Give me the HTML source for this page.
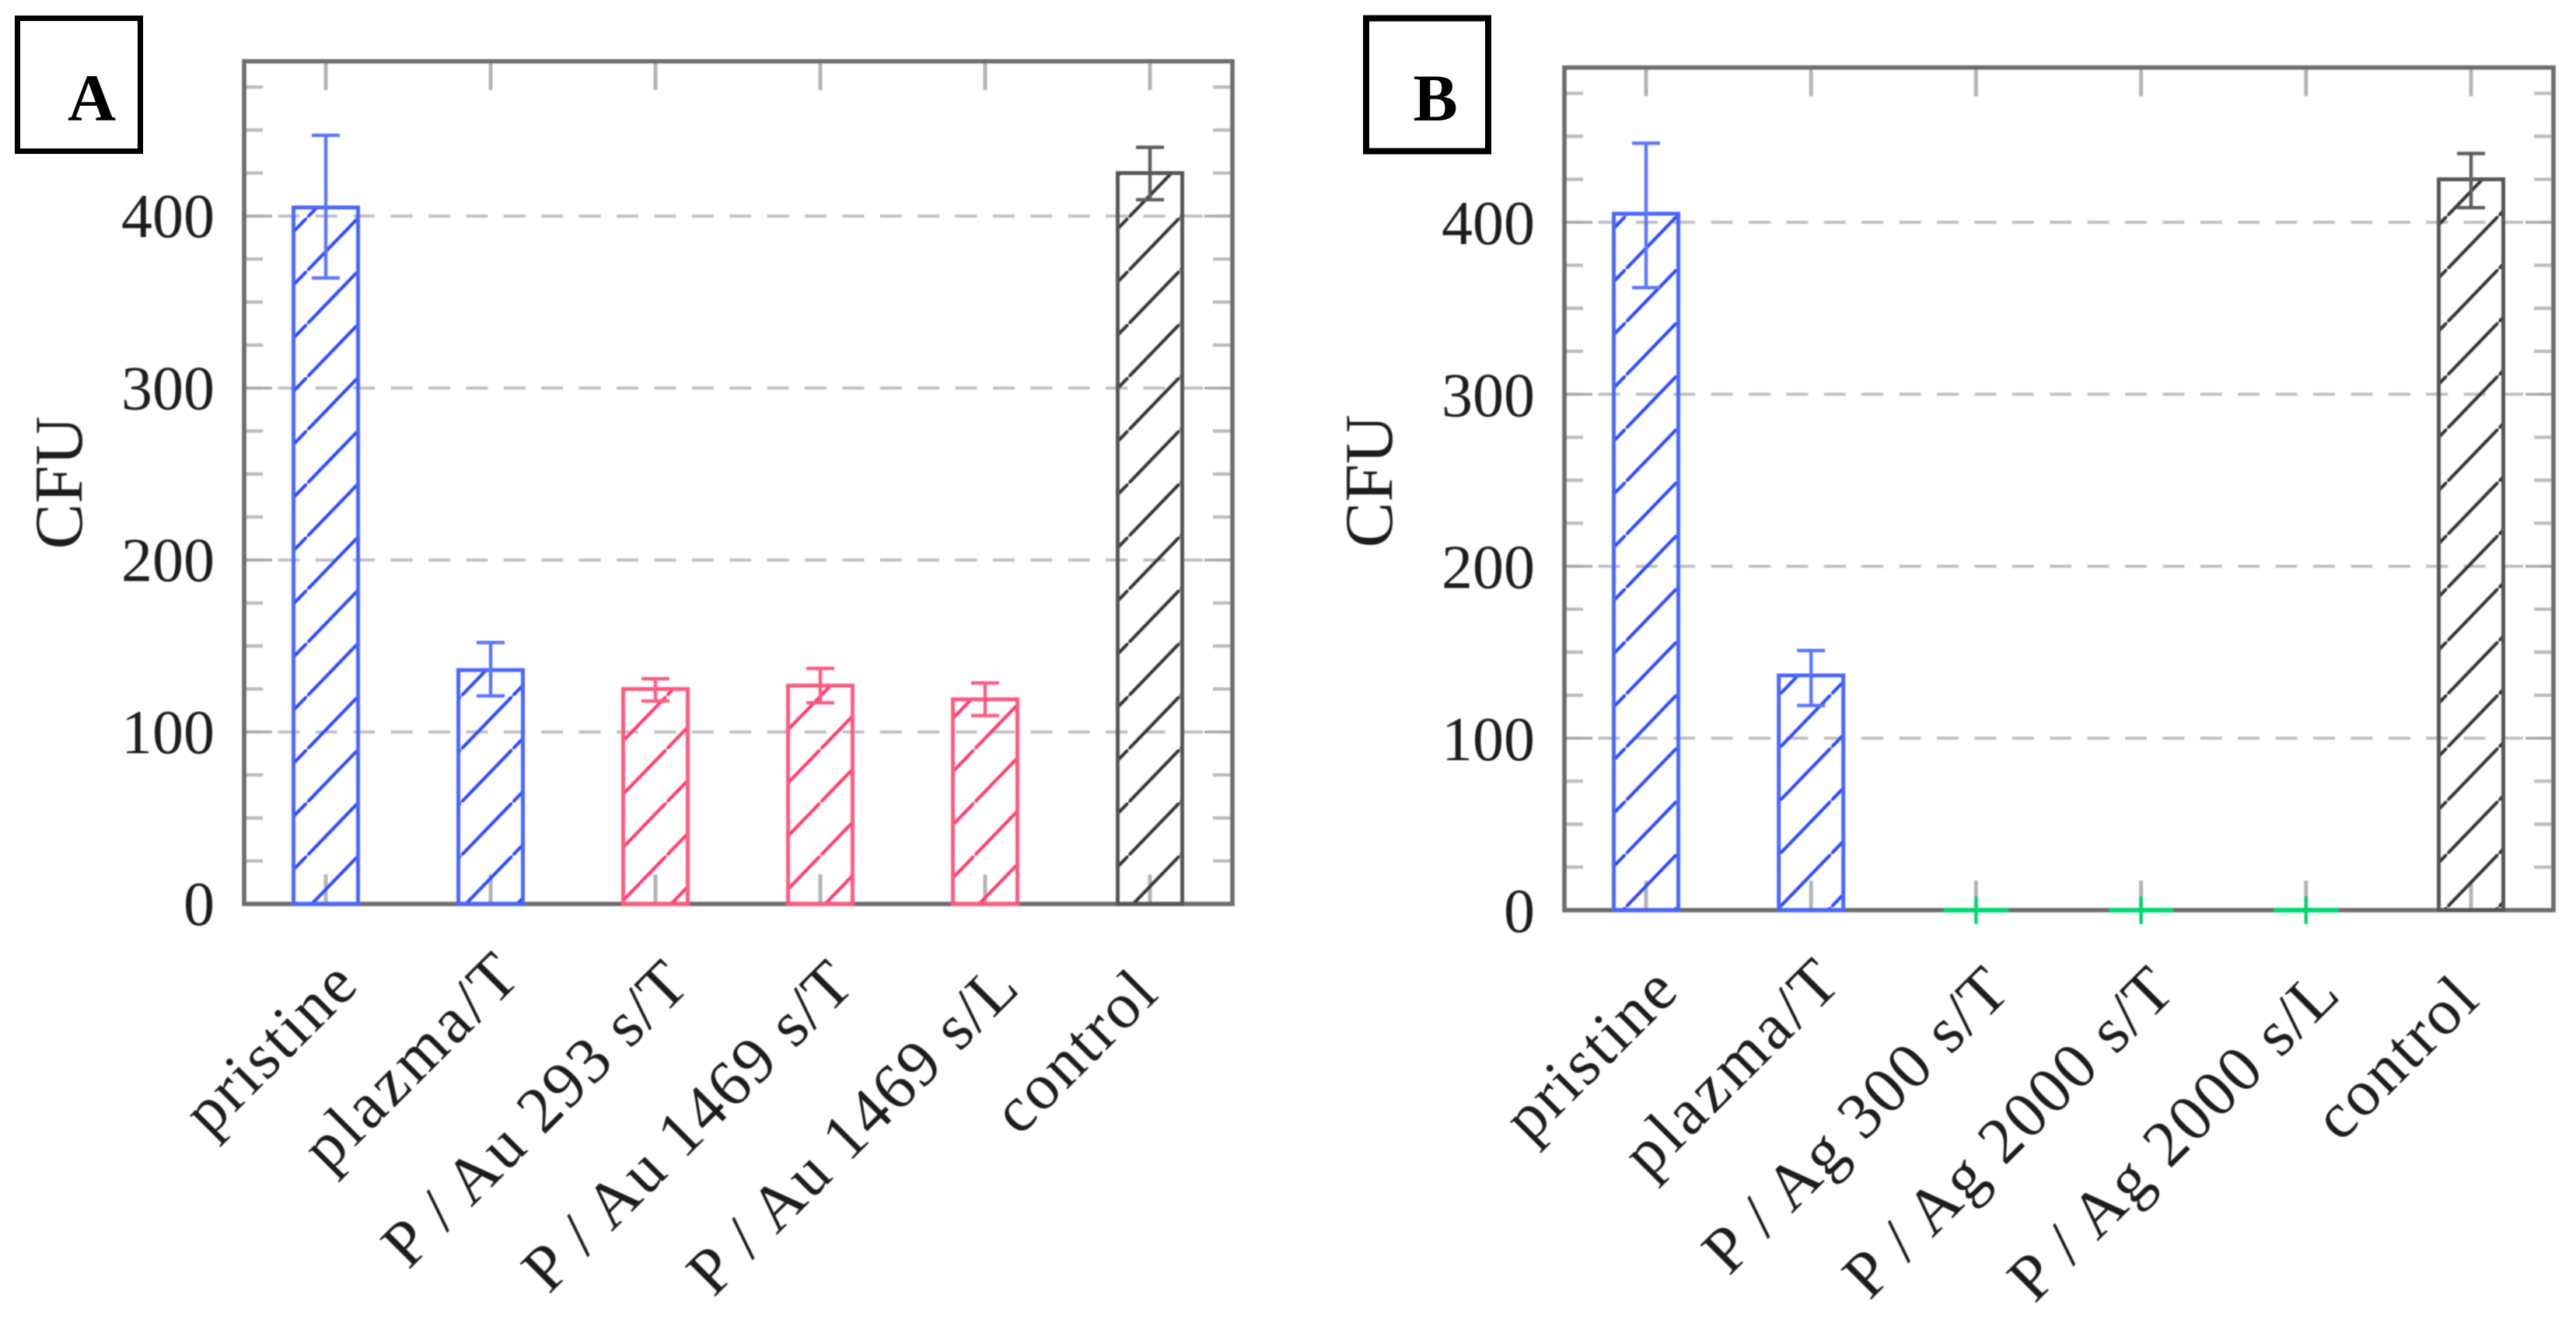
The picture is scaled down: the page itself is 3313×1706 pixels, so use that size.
<!DOCTYPE html>
<html lang="en">
<head>
<meta charset="utf-8">
<title>CFU bar charts A and B</title>
<style>
html,body{margin:0;padding:0;background:#fff;width:3313px;height:1706px;overflow:hidden}
svg{display:block}
text{font-family:"Liberation Serif",serif;fill:#1c1c1c}
#plot-root{filter:blur(0.7px)}
</style>
</head>
<body>
<svg id="chart" xmlns="http://www.w3.org/2000/svg" width="3313" height="1706" viewBox="0 0 3313 1706">
  <defs id="defs"></defs>
  <rect width="3313" height="1706" fill="#fff"/>
  <g id="plot-root"></g>
  <g>
    <rect x="22.5" y="23.5" width="158" height="171" fill="#fff" stroke="#000" stroke-width="7"/>
    <text x="118" y="155" font-size="86" font-weight="bold" text-anchor="middle" style="fill:#000">A</text>
  </g>
  <g>
    <rect x="1757" y="23.5" width="157" height="171" fill="#fff" stroke="#000" stroke-width="8"/>
    <text x="1846" y="155" font-size="86" font-weight="bold" text-anchor="middle" style="fill:#000">B</text>
  </g>
</svg>
<script>
// ---- Chart data ----
const categoriesA = ['pristine', 'plazma/T', 'P / Au 293 s/T', 'P / Au 1469 s/T', 'P / Au 1469 s/L', 'control'];
const valuesA = [405, 136, 125, 127, 119, 425];
const errorLowA = [364, 121, 118, 117, 109.5, 409.5];
const errorHighA = [447, 152, 131, 137, 128.5, 440];
const seriesA = ['blue', 'blue', 'red', 'red', 'red', 'black'];

const categoriesB = ['pristine', 'plazma/T', 'P / Ag 300 s/T', 'P / Ag 2000 s/T', 'P / Ag 2000 s/L', 'control'];
const valuesB = [405, 136.5, 0, 0, 0, 425];
const errorLowB = [362, 119, -8, -8, -8, 408.5];
const errorHighB = [446, 151, 8, 8, 8, 440];
const seriesB = ['blue', 'blue', 'green', 'green', 'green', 'black'];

const majorTicks = [0, 100, 200, 300, 400];
const minorTicks = [25, 50, 75, 125, 150, 175, 225, 250, 275, 325, 350, 375, 425, 450, 475];
const axisTitle = 'CFU';

// ---- Styling and layout ----
const PX_PER_UNIT = 2.2125;
const Y_MAX = 490;
const BAR_WIDTH = 83;
const CAP_WIDTH = 36;
const HATCH_PERIOD = 68.4;
const HATCH_SLOPE = 1.036;
const colors = {
  blue: {border: '#4a66ff', hatch: '#2a48ff', error: '#5a74ff'},
  red: {border: '#ff5a80', hatch: '#ff3a68', error: '#ff5a80'},
  black: {border: '#555555', hatch: '#333333', error: '#5c5c5c'},
  green: {border: '#00d870', hatch: '#00d870', error: '#00d46c'}
};
const labelNudge = [
  {dx: 10, dy: 10, ls: 3},
  {dx: 8, dy: -2, ls: 5},
  {dx: 12, dy: 10, ls: 2.5},
  {dx: 12, dy: 10, ls: 2.5},
  {dx: 12, dy: 14, ls: 2.5},
  {dx: -21, dy: 21, ls: 3}
];
const panels = [
  {key: 'a', left: 314, right: 1585, bottom: 1163, first: 419, step: 212, cats: categoriesA, vals: valuesA, lo: errorLowA, hi: errorHighA, series: seriesA,
   hatchX: 461, hatchY: 280, tickEnd: 276, tickDy: 27, titleX: 105, titleY: 621, labelDx: 36, labelDy: 96},
  {key: 'b', left: 2012, right: 3284, bottom: 1171, first: 2117, step: 212.2, cats: categoriesB, vals: valuesB, lo: errorLowB, hi: errorHighB, series: seriesB,
   hatchX: 2157, hatchY: 825, tickEnd: 1974, tickDy: 28, titleX: 1790, titleY: 619, labelDx: 36, labelDy: 96}
];

const NS = 'http://www.w3.org/2000/svg';
const root = document.getElementById('plot-root');
const defs = document.getElementById('defs');

function el(tag, parent, attrs) {
  const node = document.createElementNS(NS, tag);
  for (const k in attrs) node.setAttribute(k, attrs[k]);
  parent.appendChild(node);
  return node;
}
function hline(parent, x1, x2, y, color, width, dash) {
  const l = el('line', parent, {x1: x1, x2: x2, y1: y, y2: y, stroke: color, 'stroke-width': width});
  if (dash) {
    l.setAttribute('stroke-dasharray', dash);
    l.setAttribute('stroke-dashoffset', 5);
  }
  return l;
}
function vline(parent, x, y1, y2, color, width) {
  return el('line', parent, {x1: x, x2: x, y1: y1, y2: y2, stroke: color, 'stroke-width': width});
}

function makeHatch(p, seriesKey) {
  const w = HATCH_PERIOD / HATCH_SLOPE;
  const h = HATCH_PERIOD;
  const id = 'hatch-' + p.key + '-' + seriesKey;
  const pat = el('pattern', defs, {id: id, patternUnits: 'userSpaceOnUse', width: w, height: h, x: p.hatchX - w, y: p.hatchY});
  const c = colors[seriesKey].hatch;
  el('line', pat, {x1: -w * 0.1, y1: h * 1.1, x2: w * 1.1, y2: -h * 0.1, stroke: c, 'stroke-width': 4.2});
  return id;
}

panels.forEach(function (p) {
  const yScale = function (v) { return p.bottom - v * PX_PER_UNIT; };
  const xScale = function (i) { return p.first + i * p.step; };
  const top = yScale(Y_MAX);

  const g = el('g', root, {});
  
  

  // gridlines
  majorTicks.forEach(function (t) {
    if (t === 0) return;
    const gl = hline(g, p.left, p.right, yScale(t), '#c0c0c0', 4, '28 20.4');
    
    
  });

  // y ticks
  minorTicks.forEach(function (t) {
    const a = hline(g, p.left, p.left + 24, yScale(t), '#bcbcbc', 4.4);
    
    
    const b = hline(g, p.right - 25, p.right, yScale(t), '#bcbcbc', 4.4);
    
    
  });
  majorTicks.forEach(function (t) {
    const a = hline(g, p.left, p.left + 36, yScale(t), '#a8a8a8', 3.6);
    
    
    const b = hline(g, p.right - 36, p.right, yScale(t), '#a8a8a8', 3.6);
    
    
    const lab = el('text', g, {x: p.tickEnd, y: yScale(t) + p.tickDy, 'font-size': 80, 'text-anchor': 'end'});
    lab.textContent = String(t);
    
    
  });

  // x ticks and labels
  p.cats.forEach(function (name, i) {
    const x = xScale(i);
    const a = vline(g, x, top, top + 37, '#b4b4b4', 5);
    
    
    const b = vline(g, x, p.bottom - 38, p.bottom, '#b4b4b4', 5);
    
    
    const n = labelNudge[i];
    const lx = x + p.labelDx + n.dx;
    const ly = p.bottom + p.labelDy + n.dy;
    const lab = el('text', g, {x: lx, y: ly, 'font-size': 84, 'text-anchor': 'end', 'letter-spacing': n.ls, transform: 'rotate(-45 ' + lx + ' ' + ly + ')'});
    lab.textContent = name;
    
    
  });

  // axis frame
  const frame = el('rect', g, {x: p.left, y: top, width: p.right - p.left, height: p.bottom - top, fill: 'none', stroke: '#6c6c6c', 'stroke-width': 5.6});
  
  

  // axis title
  const title = el('text', g, {x: p.titleX, y: p.titleY, 'font-size': 88, 'text-anchor': 'middle', transform: 'rotate(-90 ' + p.titleX + ' ' + p.titleY + ')'});
  title.textContent = axisTitle;
  
  

  // bars and error bars
  const hatchIds = {};
  p.vals.forEach(function (v, i) {
    const s = p.series[i];
    const c = colors[s];
    if (!hatchIds[s]) hatchIds[s] = makeHatch(p, s);
    const cx = xScale(i);
    const yTop = yScale(v);
    const h = p.bottom - yTop;

    let bar;
    if (h > 0) {
      const hatch = el('rect', g, {x: cx - BAR_WIDTH / 2, y: yTop, width: BAR_WIDTH, height: h, fill: 'url(#' + hatchIds[s] + ')'});
      
      
      bar = el('rect', g, {x: cx - BAR_WIDTH / 2, y: yTop, width: BAR_WIDTH, height: h, fill: 'none', stroke: c.border, 'stroke-width': 5});
    } else {
      bar = hline(g, cx - BAR_WIDTH / 2, cx + BAR_WIDTH / 2, yTop, c.border, 6);
    }
    
    

    const eLow = yScale(p.lo[i]);
    const eHigh = yScale(p.hi[i]);
    const stem = vline(g, cx, eHigh, eLow, c.error, s === 'green' ? 4.4 : 4.4);
    
    
    if (s !== 'green') {
      const capA = hline(g, cx - CAP_WIDTH / 2, cx + CAP_WIDTH / 2, eHigh, c.error, 4.4);
      
      
      const capB = hline(g, cx - CAP_WIDTH / 2, cx + CAP_WIDTH / 2, eLow, c.error, 4.4);
      
      
    }
  });
});
</script>
</body>
</html>
